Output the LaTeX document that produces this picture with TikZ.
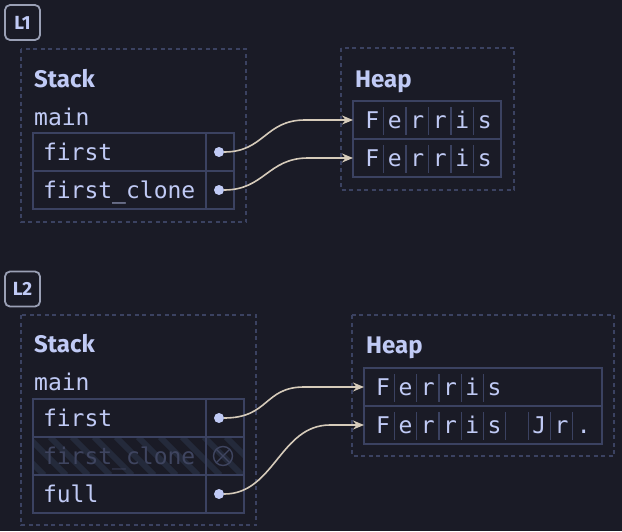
\documentclass[tikz,border=0pt]{standalone}
\usepackage{fontspec}
\setmainfont{Fira Sans}
\newfontfamily\codefont{DejaVu Sans Mono}
\usetikzlibrary{arrows.meta,calc,positioning}

\definecolor{bgc}{HTML}{1A1B26}
\definecolor{txt}{HTML}{C0CAF5}
\definecolor{grid}{HTML}{3B4261}
\definecolor{faded}{HTML}{3F4560}
\definecolor{stripe}{HTML}{242A3B}
\definecolor{ptrc}{HTML}{D6CBBA}
\definecolor{tagc}{HTML}{9AA0B5}

\begin{document}
\begin{tikzpicture}[x=1pt,y=-1pt,
    frame/.style={draw=grid, line width=1.2pt, dash pattern=on 4pt off 3.5pt},
    title/.style={font=\fontsize{24}{28}\selectfont\bfseries, text=txt, anchor=base west, inner sep=0pt},
    code/.style={font=\codefont\fontsize{23}{27}\selectfont, text=txt, text height=20pt, text depth=4pt, inner sep=0pt},
    slot/.style={code, draw=grid, line width=1.5pt, outer sep=0pt, anchor=north west, minimum height=38pt, text width=153pt, inner xsep=10pt, align=left},
    ptrcell/.style={draw=grid, line width=1.5pt, outer sep=0pt, minimum height=38pt, inner sep=0pt},
    hrow/.style={draw=grid, line width=1.5pt, outer sep=0pt, anchor=north west, minimum height=38pt, inner sep=0pt},
    sep/.style={draw=grid, line width=1.2pt},
    dot/.style={circle, fill=txt, minimum size=10pt, inner sep=0pt},
    tag/.style={draw=tagc, rounded corners=5pt, line width=1.8pt, minimum size=35pt, inner sep=0pt, text=txt, font=\fontsize{19}{22}\selectfont\bfseries},
    ptr/.style={->, draw=ptrc, line width=1.6pt},
    >={Stealth[length=11pt,width=9pt]}
  ]

    \fill[bgc] (0,0) rectangle (622,531);
    \useasboundingbox (0,0) rectangle (622,531);

    % L1
    \node[tag] (l1) at (22.5,22.5) {L1};
    \draw[frame] (21,49) rectangle (246,222);
    \draw[frame] (341,48) rectangle (514,190);
    \node[title] (st1) at (34,87) {Stack};
    \node[title] (hp1) at (355,87) {Heap};
    \node[code, anchor=base west, text height=, text depth=] (mn1) at (34,125) {main};

    \node[slot] (s1a) at (33,133) {first};
    \node[slot, below=0pt of s1a] (s1b) {first\_clone};
    \node[ptrcell, minimum width=28pt, right=0pt of s1a] (s1ap) {};
    \node[ptrcell, minimum width=28pt, right=0pt of s1b] (s1bp) {};

    \node[hrow, minimum width=148pt] (h1a) at (353,101) {};
    \node[hrow, minimum width=148pt, below=0pt of h1a] (h1b) {};
    \foreach \r in {h1a,h1b} {
      \foreach \c [count=\i] in {F,e,r,r,i,s}
        \node[code] at ($(\r.west)+(22.5*\i-3.25,0)$) {\c};
      \foreach \i in {1,...,5}
        \draw[sep] ($(\r.west)+(8+22.5*\i,-13)$) -- ++(0,28);
    }

    \node[dot] (d1a) at ($(s1ap.west)+(13,0)$) {};
    \node[dot] (d1b) at ($(s1bp.west)+(13,0)$) {};
    \coordinate (k1a) at ($(h1a.west)+(-48,0)$);
    \coordinate (k1b) at ($(h1b.west)+(-45,0)$);
    \draw[ptr] (d1a.east) .. controls +(40,0) and +(-40,0) .. (k1a) -- (h1a.west);
    \draw[ptr] (d1b.east) .. controls +(40,0) and +(-40,0) .. (k1b) -- (h1b.west);

    % L2
    \node[tag] (l2) at (22.5,289) {L2};
    \draw[frame] (21,315) rectangle (256,525);
    \draw[frame] (352,315) rectangle (614,456);
    \node[title] (st2) at (34,352) {Stack};
    \node[title] (hp2) at (366,353) {Heap};
    \node[code, anchor=base west, text height=, text depth=] (mn2) at (34,390) {main};

    % moved-out slot
    \begin{scope}
      \clip (33,437) rectangle (244,475);
      \foreach \x in {-60,-38,...,260}
        \draw[stripe, line width=6pt] (\x,437) -- ++(38,38);
    \end{scope}

    \node[slot] (s2a) at (33,399) {first};
    \node[slot, below=0pt of s2a, text=faded] (s2b) {first\_clone};
    \node[slot, below=0pt of s2b] (s2c) {full};
    \node[ptrcell, minimum width=38pt, right=0pt of s2a] (s2ap) {};
    \node[ptrcell, minimum width=38pt, right=0pt of s2b] (s2bp) {};
    \node[ptrcell, minimum width=38pt, right=0pt of s2c] (s2cp) {};

    \node[hrow, minimum width=238pt] (h2a) at (364,368) {};
    \node[hrow, minimum width=238pt, below=0pt of h2a] (h2b) {};
    \foreach \c [count=\i] in {F,e,r,r,i,s}
      \node[code] at ($(h2a.west)+(22.3*\i-3.15,0)$) {\c};
    \foreach \i in {1,...,5}
      \draw[sep] ($(h2a.west)+(8+22.3*\i,-13)$) -- ++(0,28);
    \foreach \c [count=\i] in {F,e,r,r,i,s,{},J,r,.}
      \node[code] at ($(h2b.west)+(22.3*\i-3.15,0)$) {\c};
    \foreach \i in {1,...,9}
      \draw[sep] ($(h2b.west)+(8+22.3*\i,-13)$) -- ++(0,28);

    \node[dot] (d2a) at ($(s2ap.west)+(13,0)$) {};
    \node[circle, draw=faded, line width=1.4pt, minimum size=19pt, inner sep=0pt] (d2b) at ($(s2bp.west)+(17,0)$) {};
    \draw[faded, line width=1.4pt] ($(d2b)+(45:9.5)$) -- ($(d2b)+(225:9.5)$)
                                   ($(d2b)+(135:9.5)$) -- ($(d2b)+(315:9.5)$);
    \node[dot] (d2c) at ($(s2cp.west)+(13,0)$) {};
    \coordinate (k2a) at ($(h2a.west)+(-60,0)$);
    \coordinate (k2b) at ($(h2b.west)+(-34,0)$);
    \draw[ptr] (d2a.east) .. controls +(45,0) and +(-40,0) .. (k2a) -- (h2a.west);
    \draw[ptr] (d2c.east) .. controls +(50,0) and +(-50,0) .. (k2b) -- (h2b.west);

\end{tikzpicture}
\end{document}
